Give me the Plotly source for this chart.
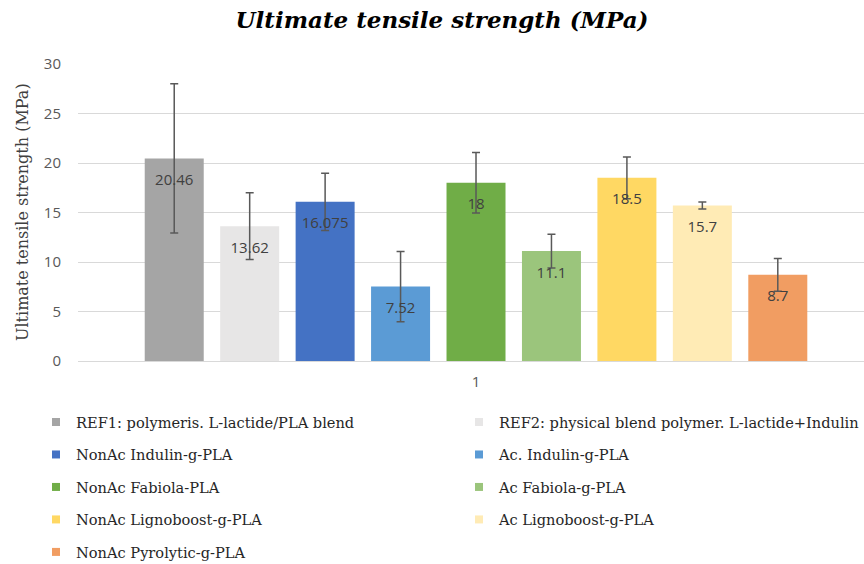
import plotly.graph_objects as go

categories = ["1"]
series_names = [
    "REF1: polymeris. L-lactide/PLA blend",
    "REF2: physical blend polymer. L-lactide+Indulin",
    "NonAc Indulin-g-PLA",
    "Ac. Indulin-g-PLA",
    "NonAc Fabiola-PLA",
    "Ac Fabiola-g-PLA",
    "NonAc Lignoboost-g-PLA",
    "Ac Lignoboost-g-PLA",
    "NonAc Pyrolytic-g-PLA",
]
values = [20.46, 13.62, 16.075, 7.52, 18, 11.1, 18.5, 15.7, 8.7]
value_labels = ["20.46", "13.62", "16.075", "7.52", "18", "11.1", "18.5", "15.7", "8.7"]
errors = [7.54, 3.37, 2.9, 3.55, 3.05, 1.7, 2.1, 0.35, 1.65]
colors = ["#A5A5A5", "#E7E6E6", "#4472C4", "#5B9BD5", "#70AD47",
          "#9BC57C", "#FFD863", "#FFEBB5", "#F19D62"]
y_ticks = [0, 5, 10, 15, 20, 25, 30]

BARGAP = 0.147

fig = go.Figure()
# bars with error bars
for i, name in enumerate(series_names):
    fig.add_trace(go.Bar(
        x=categories,
        y=[values[i]],
        name=name,
        marker=dict(color=colors[i], line=dict(width=0)),
        error_y=dict(type="data", array=[errors[i]], visible=True,
                     color="#595959", thickness=1.5, width=4),
        showlegend=False,
        hoverinfo="skip",
    ))
# data labels, grouped the same way as the bars
for i, name in enumerate(series_names):
    fig.add_trace(go.Scatter(
        x=categories,
        y=[values[i]],
        mode="markers+text",
        text=[value_labels[i]],
        textposition="bottom center",
        textfont=dict(family="Open Sans", size=15, color="#404040"),
        marker=dict(size=23, opacity=0),
        showlegend=False,
        hoverinfo="skip",
        cliponaxis=False,
    ))
# legend entries (small square swatches) on a hidden overlay axis
for i, name in enumerate(series_names):
    fig.add_trace(go.Scatter(
        x=[None], y=[None],
        xaxis="x2", yaxis="y2",
        mode="markers",
        name=name,
        marker=dict(symbol="square", size=8, color=colors[i]),
        legend="legend" if i % 2 == 0 else "legend2",
        legendgroup=name,
        hoverinfo="skip",
    ))

legend_common = dict(
    orientation="v",
    font=dict(family="DejaVu Serif", size=14.6, color="#262626"),
    bgcolor="rgba(0,0,0,0)",
    tracegroupgap=10.5,
    itemsizing="trace",
    xref="container", yref="container",
    xanchor="left", yanchor="top",
    itemclick=False, itemdoubleclick=False,
)

fig.update_layout(
    width=864, height=564,
    paper_bgcolor="white", plot_bgcolor="white",
    margin=dict(l=78, r=0, t=64, b=203, autoexpand=False),
    title=dict(text="<b><i>Ultimate tensile strength (MPa)</i></b>",
               font=dict(family="DejaVu Serif", size=23, color="#000000"),
               x=442/864, xanchor="center", y=1-20/564, yanchor="middle",
               xref="container", yref="container"),
    barmode="group",
    bargap=BARGAP,
    bargroupgap=0.218,
    scattermode="group",
    scattergap=BARGAP,
    showlegend=True,
    legend=dict(x=36/864, y=1-406/564, **legend_common),
    legend2=dict(x=459/864, y=1-406/564, **legend_common),
    xaxis=dict(type="category", range=[-0.5, 0.4874],
               showgrid=False, zeroline=False, showline=False, ticks="",
               ticklabelstandoff=10,
               tickfont=dict(family="Open Sans", size=15, color="#595959")),
    yaxis=dict(range=[0, 30], tickvals=y_ticks, showgrid=True,
               gridcolor="#D9D9D9", gridwidth=1, zeroline=True,
               zerolinecolor="#D9D9D9", zerolinewidth=1, showline=False,
               ticks="", ticklabelstandoff=16,
               tickfont=dict(family="Open Sans", size=15, color="#595959")),
    xaxis2=dict(visible=False, overlaying="x", range=[0, 1]),
    yaxis2=dict(visible=False, overlaying="y", range=[0, 1]),
    annotations=[dict(
        text="Ultimate tensile strength (MPa)",
        textangle=-90, showarrow=False,
        xref="paper", yref="paper",
        x=-(78 - 22) / 786, y=(361 - 212) / 297, xanchor="center", yanchor="middle",
        font=dict(family="DejaVu Serif", size=16, color="#404040"),
    )],
)

fig.write_html("out.html", config={"displayModeBar": False},
               post_script="document.body.style.margin='0px';")
